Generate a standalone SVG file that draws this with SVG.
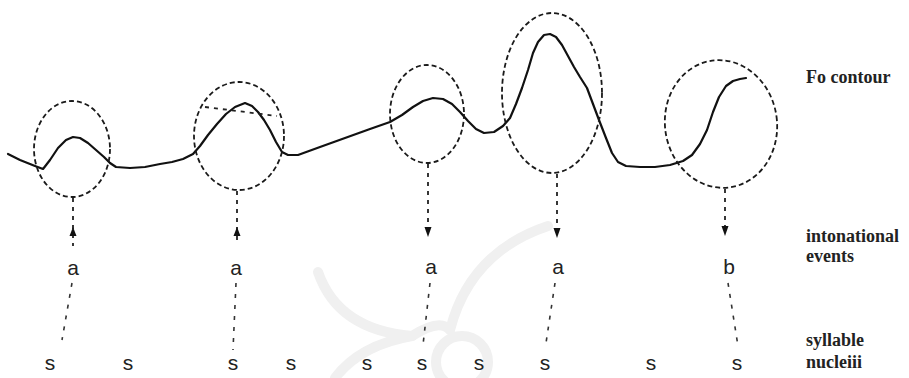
<svg xmlns="http://www.w3.org/2000/svg" width="909" height="378" viewBox="0 0 909 378">
<style>
.ell{fill:none;stroke:#1a1a1a;stroke-width:1.8;stroke-dasharray:5 3}
.curve{fill:none;stroke:#111;stroke-width:2.2;stroke-linejoin:round;stroke-linecap:round}
.dash{fill:none;stroke:#222;stroke-width:1.8;stroke-dasharray:4 5}
.dots{fill:none;stroke:#333;stroke-width:1.6;stroke-dasharray:4 7}
.head{fill:#111}
.lbl{font-family:"Liberation Sans",Arial,sans-serif;font-size:21px;fill:#222;text-anchor:middle}
.side{font-family:"Liberation Serif","Times New Roman",serif;font-size:18px;font-weight:bold;fill:#222}
.wm{fill:none;stroke:#f0f0f0;stroke-width:10;stroke-linecap:round}
</style>
<rect width="909" height="378" fill="#fff"/>
<g id="watermark">
<path class="wm" d="M318 272 Q338 330 412 336"/>
<path class="wm" d="M548 226 Q470 252 450 330"/>
<path class="wm" d="M412 336 Q440 318 450 330"/>
<path class="wm" d="M335 378 Q360 345 412 336"/>
<circle class="wm" cx="462" cy="362" r="26"/>
</g>
<g id="contour">
<path class="curve" d="M8 154 L20 160 L35 166 L43 169 L50 160 L58 148 L66 140 L73 137 L80 138 L88 143 L96 150 L104 157 L110 163 L116 167 L130 168 L145 167 L160 164 L172 162 L183 159 L193 154 L200 146 L208 135 L217 124 L226 114 L235 107 L245 103 L252 106 L258 112 L264 120 L270 130 L276 142 L282 152 L288 155 L298 155 L320 147 L345 138 L370 129 L390 122 L402 115 L413 107 L423 101 L433 98 L443 99 L452 104 L460 112 L468 121 L476 129 L484 133 L494 132 L503 126 L510 118 L516 104 L522 88 L528 70 L533 53 L538 42 L544 35 L550 34 L556 37 L562 45 L568 56 L574 67 L580 77 L587 88 L593 104 L599 120 L606 138 L612 153 L618 162 L626 166 L640 167 L655 167 L670 165 L683 161 L692 155 L700 144 L707 130 L713 112 L719 97 L726 86 L733 81 L740 79 L746 78"/>
<path class="dash" d="M205 107 L277 116" stroke-width="1.2"/>
</g>
<g id="event1">
<ellipse class="ell" cx="72" cy="149" rx="38" ry="48"/>
<text class="lbl" x="73" y="275">a</text>
</g>
<g id="event2">
<ellipse class="ell" cx="239" cy="136" rx="45" ry="54"/>
<text class="lbl" x="236" y="275">a</text>
</g>
<g id="event3">
<ellipse class="ell" cx="427" cy="114" rx="37" ry="49"/>
<text class="lbl" x="431" y="274">a</text>
</g>
<g id="event4">
<ellipse class="ell" cx="552" cy="93" rx="50" ry="80"/>
<text class="lbl" x="558" y="274">a</text>
</g>
<g id="event5">
<ellipse class="ell" cx="721" cy="124" rx="56" ry="64" transform="rotate(-8 721 124)"/>
<text class="lbl" x="729" y="274">b</text>
</g>
<g id="syllables">
<text class="lbl" x="50" y="370">s</text>
<text class="lbl" x="128" y="370">s</text>
<text class="lbl" x="233" y="370">s</text>
<text class="lbl" x="291" y="370">s</text>
<text class="lbl" x="367" y="370">s</text>
<text class="lbl" x="422" y="370">s</text>
<text class="lbl" x="479" y="370">s</text>
<text class="lbl" x="545" y="370">s</text>
<text class="lbl" x="651" y="370">s</text>
<text class="lbl" x="737" y="370">s</text>
</g>
<g id="labels">
<text class="side" x="806" y="83">Fo contour</text>
<text class="side" x="806" y="242">intonational</text>
<text class="side" x="806" y="262">events</text>
<text class="side" x="806" y="346" font-size="17">syllable</text>
<text class="side" x="806" y="368" font-size="17">nucleiii</text>
</g>
<g id="connectors">
<path class="dash" d="M73 198 L73 246"/>
<polygon class="head" points="73,227 69.5,236 76.5,236"/>
<path class="dash" d="M237 191 L237 244"/>
<polygon class="head" points="237,227 233.5,236 240.5,236"/>
<path class="dash" d="M428 164 L428 228"/>
<polygon class="head" points="428,237 424.5,227 431.5,227"/>
<path class="dash" d="M557 174 L557 229"/>
<polygon class="head" points="557,238 553.5,228 560.5,228"/>
<path class="dash" d="M725 189 L725 227"/>
<polygon class="head" points="725,236 721.5,226 728.5,226"/>
<path class="dots" d="M72 283 L62 340"/>
<path class="dots" d="M236 283 L233 350"/>
<path class="dots" d="M430 283 L423 345"/>
<path class="dots" d="M555 283 L546 343"/>
<path class="dots" d="M728 283 L738 346"/>
</g>
</svg>
